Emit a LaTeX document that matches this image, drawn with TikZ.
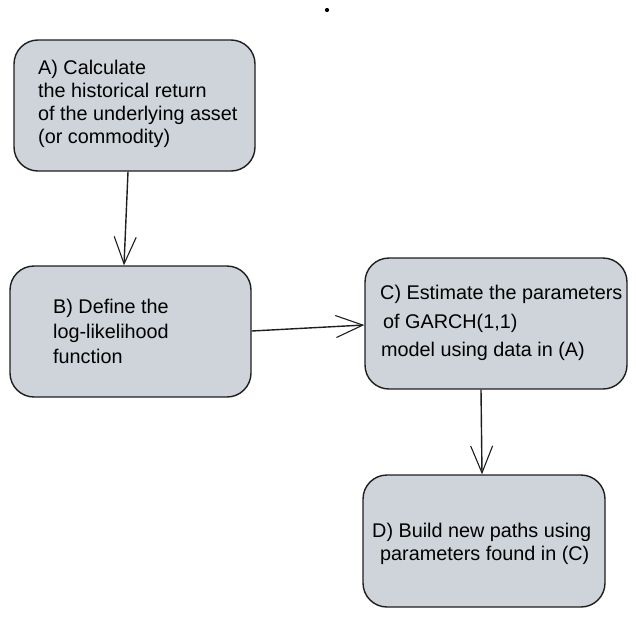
\documentclass[tikz,border=0pt]{standalone}
\usepackage{fontspec}
\setmainfont{Liberation Sans}
\usetikzlibrary{arrows.meta}
\definecolor{boxfill}{RGB}{206,212,218}
\definecolor{ink}{RGB}{30,30,30}
\tikzset{
  x=1pt, y=-1pt,
  stepbox/.style={draw=ink, line width=1.4pt, fill=boxfill, rounded corners=24pt, inner sep=0pt},
  lbl/.style={anchor=base west, inner sep=0pt, font=\fontsize{19.8}{23}\selectfont, text=black},
  conn/.style={draw=ink, line width=1.4pt, -{Straight Barb[length=27pt,width=22pt,line width=1.1pt]}}
}
\begin{document}
\begin{tikzpicture}
\useasboundingbox (0,0) rectangle (636,616);
\fill[black] (327,10) circle (2.1pt);
\coordinate (dot) at (327,10);
% boxes
\node[stepbox, minimum width=241pt, minimum height=131pt] (A) at (134.5,105.5) {};
\node[stepbox, minimum width=241pt, minimum height=131pt] (B) at (130.5,331.5) {};
\node[stepbox, minimum width=262pt, minimum height=131pt] (C) at (496,323.5) {};
\node[stepbox, minimum width=242pt, minimum height=132pt] (D) at (484,541) {};
% texts
\node[lbl] (a1) at (38,74) {A) Calculate};
\node[lbl] (a2) at (38,97) {the historical return};
\node[lbl] (a3) at (38,120) {of the underlying asset};
\node[lbl] (a4) at (38,143) {(or commodity)};
\node[lbl] (b1) at (53,313) {B) Define the};
\node[lbl] (b2) at (53,338) {log-likelihood};
\node[lbl] (b3) at (53,363) {function};
\node[lbl] (c1) at (380,299) {C) Estimate the parameters};
\node[lbl] (c2) at (383,328) {of GARCH(1,1)};
\node[lbl] (c3) at (381,356) {model using data in (A)};
\node[lbl] (d1) at (372,537) {D) Build new paths using};
\node[lbl] (d2) at (380,560) {parameters found in (C)};
% connectors
\draw[conn] (A.south -| 128,0) -- (B.north -| 124,0);
\draw[conn] (B.east |- 0,331) -- (C.west |- 0,325);
\draw[conn] (C.south -| 481,0) -- (D.north -| 482,0);
\end{tikzpicture}
\end{document}
